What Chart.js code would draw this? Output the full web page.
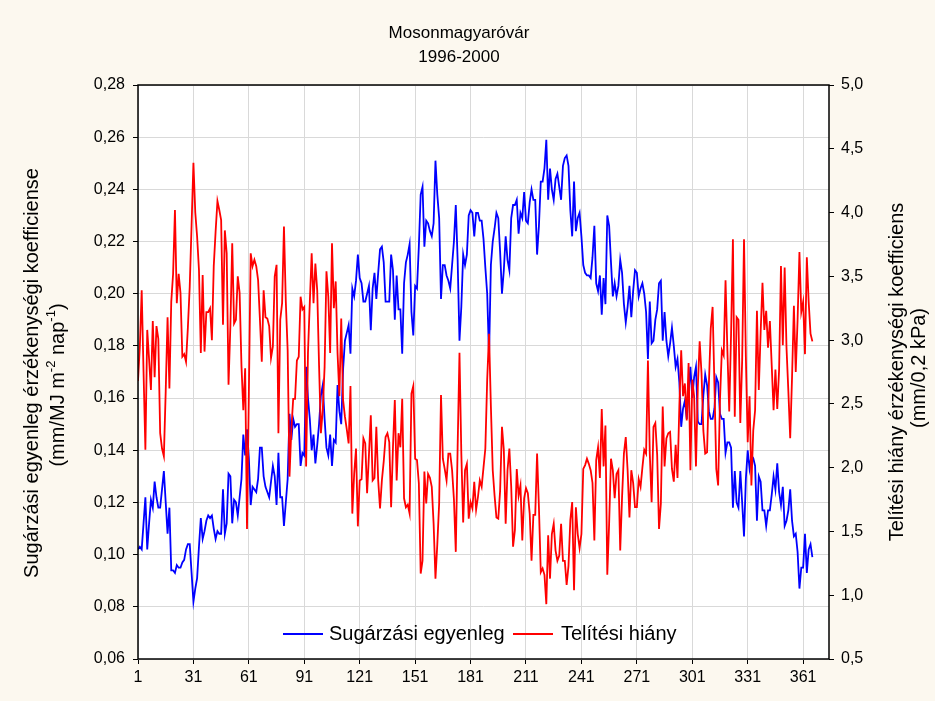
<!DOCTYPE html>
<html lang="hu">
<head>
<meta charset="UTF-8">
<title>Mosonmagyaróvár 1996-2000</title>
<script src="https://cdn.jsdelivr.net/npm/chart.js"></script>
<style>
  body { margin: 0; background: #fcf8ef; }
  #wrap { width: 935px; height: 701px; }
</style>
</head>
<body>
<div id="wrap"><canvas id="chart" width="935" height="701"></canvas></div>
<script>
// napok (1..366)
const days = Array.from({ length: 366 }, (_, i) => i + 1);

// Sugárzási egyenleg érzékenységi koefficiense (bal tengely)
const sugarzasi = [
  0.102,0.103,0.102,0.112,0.122,0.102,0.112,0.121,0.118,0.128,
  0.122,0.118,0.118,0.125,0.132,0.120,0.108,0.118,0.094,0.094,
  0.093,0.096,0.095,0.095,0.097,0.098,0.102,0.104,0.104,0.093,
  0.082,0.087,0.091,0.103,0.114,0.106,0.109,0.113,0.115,0.114,
  0.115,0.110,0.106,0.109,0.108,0.108,0.125,0.108,0.112,0.131,
  0.130,0.112,0.121,0.120,0.115,0.122,0.129,0.146,0.138,0.148,
  0.137,0.119,0.126,0.125,0.124,0.129,0.141,0.141,0.130,0.126,
  0.124,0.122,0.128,0.134,0.130,0.119,0.139,0.122,0.122,0.111,
  0.120,0.129,0.154,0.144,0.152,0.149,0.150,0.150,0.134,0.139,
  0.138,0.172,0.160,0.152,0.140,0.146,0.135,0.142,0.150,0.161,
  0.165,0.152,0.141,0.138,0.146,0.134,0.144,0.143,0.165,0.155,
  0.150,0.171,0.182,0.185,0.188,0.177,0.202,0.199,0.205,0.215,
  0.206,0.204,0.197,0.197,0.200,0.203,0.186,0.202,0.208,0.198,
  0.208,0.217,0.218,0.212,0.197,0.197,0.197,0.215,0.209,0.190,
  0.207,0.194,0.194,0.177,0.204,0.212,0.215,0.219,0.193,0.184,
  0.203,0.202,0.218,0.238,0.241,0.218,0.228,0.227,0.224,0.222,
  0.227,0.251,0.238,0.229,0.198,0.211,0.211,0.207,0.205,0.202,
  0.211,0.220,0.234,0.213,0.182,0.195,0.215,0.211,0.215,0.230,
  0.232,0.231,0.222,0.231,0.231,0.228,0.228,0.221,0.210,0.200,
  0.176,0.211,0.220,0.225,0.231,0.229,0.216,0.200,0.209,0.222,
  0.213,0.209,0.229,0.234,0.234,0.236,0.223,0.231,0.229,0.239,
  0.228,0.227,0.235,0.240,0.236,0.236,0.215,0.226,0.243,0.243,
  0.248,0.259,0.236,0.248,0.240,0.236,0.244,0.246,0.241,0.236,
  0.249,0.252,0.253,0.249,0.232,0.222,0.243,0.224,0.229,0.231,
  0.222,0.211,0.208,0.207,0.207,0.206,0.214,0.226,0.204,0.201,
  0.207,0.192,0.206,0.196,0.230,0.226,0.212,0.199,0.204,0.199,
  0.203,0.213,0.208,0.196,0.189,0.195,0.203,0.191,0.201,0.209,
  0.208,0.199,0.202,0.204,0.200,0.193,0.175,0.197,0.181,0.182,
  0.190,0.194,0.204,0.205,0.182,0.193,0.182,0.176,0.181,0.187,
  0.180,0.172,0.175,0.166,0.149,0.156,0.159,0.152,0.162,0.172,
  0.160,0.168,0.172,0.151,0.150,0.150,0.161,0.169,0.165,0.155,
  0.152,0.152,0.156,0.168,0.166,0.154,0.152,0.152,0.139,0.143,
  0.143,0.141,0.118,0.132,0.120,0.118,0.132,0.120,0.107,0.129,
  0.140,0.133,0.138,0.137,0.134,0.113,0.130,0.128,0.117,0.117,
  0.111,0.117,0.117,0.123,0.130,0.125,0.135,0.124,0.119,0.126,
  0.111,0.113,0.117,0.125,0.113,0.107,0.108,0.101,0.087,0.095,
  0.095,0.108,0.093,0.102,0.104,0.099
];

// Telítési hiány érzékenységi koefficiens (jobb tengely)
const telitesi = [
  2.68,2.95,3.39,2.75,2.14,3.08,2.85,2.61,3.15,2.71,
  3.11,3.01,2.27,2.15,2.09,2.60,3.18,2.62,3.30,3.52,
  4.02,3.29,3.52,3.37,2.87,2.89,2.83,3.10,3.42,3.90,
  4.39,4.00,3.81,3.55,2.90,3.51,2.91,3.22,3.22,3.25,
  3.00,3.58,3.85,4.09,4.02,3.94,3.12,3.86,3.68,2.65,
  3.11,3.76,3.13,3.16,3.50,3.37,2.80,2.45,2.78,1.52,
  2.58,3.68,3.58,3.63,3.58,3.47,3.16,2.83,3.39,3.18,
  3.17,3.11,2.86,2.95,3.50,3.59,2.27,3.16,3.29,3.89,
  3.30,2.92,1.93,2.30,2.54,2.54,2.84,2.87,3.34,3.24,
  3.26,2.01,2.90,3.30,3.68,3.29,3.60,3.39,2.80,2.27,
  2.45,2.79,3.54,3.34,2.90,3.76,3.25,3.46,2.90,2.56,
  3.17,2.53,2.40,2.30,2.19,2.64,1.64,1.95,2.15,1.54,
  1.90,1.91,2.23,2.19,1.80,2.10,2.41,1.90,1.92,2.32,
  1.90,1.68,1.90,2.05,2.24,2.27,2.20,1.69,2.16,2.53,
  1.90,2.27,2.16,2.54,1.76,1.69,1.71,1.64,2.58,2.64,
  2.07,2.06,1.88,1.17,1.27,1.97,1.72,1.95,1.92,1.85,
  1.56,1.13,1.40,1.72,2.57,2.07,1.99,1.90,2.11,2.11,
  1.98,1.75,1.34,2.16,2.90,2.11,1.57,1.98,2.03,1.60,
  1.73,1.68,1.89,1.67,1.77,1.90,1.85,2.00,2.15,2.69,
  3.05,2.48,1.98,1.78,1.61,1.60,1.82,2.32,2.14,1.56,
  1.98,2.15,1.85,1.38,1.51,1.99,1.78,1.86,1.43,1.76,
  1.84,1.80,1.64,1.27,1.63,1.63,2.11,1.69,1.18,1.21,
  1.16,0.93,1.47,1.13,1.48,1.56,1.35,1.27,1.31,1.56,
  1.27,1.27,1.08,1.23,1.59,1.73,1.04,1.69,1.48,1.37,
  1.48,1.99,2.02,2.07,2.03,1.98,1.88,1.43,2.06,2.16,
  1.92,2.46,2.01,2.33,1.16,1.56,2.07,1.98,1.76,1.95,
  1.98,1.35,1.77,2.11,2.24,1.98,1.61,1.98,1.88,1.69,
  1.69,1.91,1.85,2.00,2.14,2.11,2.84,2.11,1.73,2.32,
  2.35,2.10,1.52,1.72,2.48,2.01,2.23,2.27,2.28,1.99,
  1.89,2.18,1.92,2.48,2.92,2.56,2.66,2.37,2.82,1.98,
  2.69,2.56,2.01,2.63,2.99,2.74,2.29,2.11,2.12,2.66,
  3.09,3.26,2.64,1.99,1.86,2.53,2.92,2.88,3.47,2.92,
  2.44,3.05,3.79,2.40,3.18,3.16,2.35,2.84,3.79,2.87,
  2.20,2.56,1.86,2.29,2.45,3.23,2.61,3.06,3.45,3.08,
  3.23,2.94,3.15,2.80,2.45,2.77,2.46,2.77,3.58,2.96,
  3.57,2.94,2.60,2.23,2.71,3.27,2.75,3.16,3.69,3.22,
  3.30,2.89,3.65,3.30,3.05,2.99
];

const xTicks = [1, 31, 61, 91, 121, 151, 181, 211, 241, 271, 301, 331, 361];
const leftTicks = [0.06, 0.08, 0.10, 0.12, 0.14, 0.16, 0.18, 0.20, 0.22, 0.24, 0.26, 0.28];
const rightTicks = [0.5, 1.0, 1.5, 2.0, 2.5, 3.0, 3.5, 4.0, 4.5, 5.0];

const FONT = "'Liberation Sans', Arial, sans-serif";
const GRID = '#d9d9d9';

const comma = (v, d) => v.toFixed(d).replace('.', ',');

// háttér: krémszínű keret, fehér rajzterület
const background = {
  id: 'background',
  beforeDraw(chart) {
    const ctx = chart.ctx;
    const a = chart.chartArea;
    ctx.save();
    ctx.fillStyle = '#fcf8ef';
    ctx.fillRect(0, 0, chart.width, chart.height);
    ctx.fillStyle = '#ffffff';
    ctx.fillRect(a.left, a.top, a.right - a.left, a.bottom - a.top);
    ctx.restore();
  }
};

// feliratok, jelmagyarázat, keret
const extras = {
  id: 'extras',
  afterDraw(chart) {
    const ctx = chart.ctx;
    const a = chart.chartArea;
    ctx.save();
    ctx.fillStyle = '#000';
    ctx.textBaseline = 'middle';
    ctx.textAlign = 'center';
    ctx.font = '17px ' + FONT;
    ctx.fillText('Mosonmagyaróvár', 459, 33);
    ctx.fillText('1996-2000', 459, 57);

    // keret
    ctx.strokeStyle = '#000';
    ctx.lineWidth = 1.5;
    ctx.strokeRect(a.left, a.top, a.right - a.left, a.bottom - a.top);

    // bal tengelycím
    ctx.font = '20px ' + FONT;
    ctx.save();
    ctx.translate(32, 373);
    ctx.rotate(-Math.PI / 2);
    ctx.fillText('Sugárzási egyenleg érzékenységi koefficiense', 0, 0);
    ctx.restore();

    // (mm/MJ m-2 nap-1) felső indexekkel
    const parts = [
      ['(mm/MJ m', false], ['-2', true], [' nap', false], ['-1', true], [')', false]
    ];
    const measure = p => {
      ctx.font = (p[1] ? '13px ' : '20px ') + FONT;
      return ctx.measureText(p[0]).width;
    };
    const total = parts.reduce((s, p) => s + measure(p), 0);
    ctx.save();
    ctx.translate(58, 385);
    ctx.rotate(-Math.PI / 2);
    ctx.textAlign = 'left';
    let x = -total / 2;
    parts.forEach(p => {
      const w = measure(p);
      ctx.fillText(p[0], x, p[1] ? -7 : 0);
      x += w;
    });
    ctx.restore();

    // jobb tengelycím
    ctx.font = '20px ' + FONT;
    ctx.textAlign = 'center';
    ctx.save();
    ctx.translate(897, 372);
    ctx.rotate(-Math.PI / 2);
    ctx.fillText('Telítési hiány érzékenységi koefficiens', 0, 0);
    ctx.restore();
    ctx.save();
    ctx.translate(919, 368);
    ctx.rotate(-Math.PI / 2);
    ctx.fillText('(mm/0,2 kPa)', 0, 0);
    ctx.restore();

    // jelmagyarázat
    const ly = 634;
    ctx.lineWidth = 2;
    ctx.textAlign = 'left';
    ctx.strokeStyle = '#0000ff';
    ctx.beginPath(); ctx.moveTo(283, ly); ctx.lineTo(323, ly); ctx.stroke();
    ctx.fillText('Sugárzási egyenleg', 329, ly);
    ctx.strokeStyle = '#ff0000';
    ctx.beginPath(); ctx.moveTo(513, ly); ctx.lineTo(553, ly); ctx.stroke();
    ctx.fillText('Telítési hiány', 561, ly);
    ctx.restore();
  }
};

new Chart(document.getElementById('chart'), {
  type: 'line',
  data: {
    datasets: [
      {
        label: 'Sugárzási egyenleg',
        data: days.map((d, i) => ({ x: d, y: sugarzasi[i] })),
        borderColor: '#0000ff',
        borderWidth: 1.8,
        pointRadius: 0,
        yAxisID: 'y',
        order: 2
      },
      {
        label: 'Telítési hiány',
        data: days.map((d, i) => ({ x: d, y: telitesi[i] })),
        borderColor: '#ff0000',
        borderWidth: 1.8,
        pointRadius: 0,
        yAxisID: 'y2',
        order: 1
      }
    ]
  },
  options: {
    responsive: false,
    animation: false,
    layout: { padding: { top: 85, left: 0, right: 0, bottom: 0 } },
    plugins: { legend: { display: false }, title: { display: false }, tooltip: { enabled: false } },
    scales: {
      x: {
        type: 'linear',
        min: 1,
        max: 375,
        afterBuildTicks: s => { s.ticks = xTicks.map(v => ({ value: v })); },
        afterFit: s => { s.height = 42; },
        grid: { color: GRID, tickColor: '#000', tickLength: 5 },
        border: { display: false },
        ticks: { color: '#000', font: { family: FONT, size: 16 }, padding: 4, maxRotation: 0 }
      },
      y: {
        position: 'left',
        min: 0.06,
        max: 0.28,
        afterBuildTicks: s => { s.ticks = leftTicks.map(v => ({ value: v })); },
        afterFit: s => { s.width = 138; },
        grid: { color: GRID, tickColor: '#000', tickLength: 5 },
        border: { display: false },
        ticks: { color: '#000', font: { family: FONT, size: 16 }, padding: 8, callback: v => comma(v, 2) }
      },
      y2: {
        position: 'right',
        min: 0.5,
        max: 5.0,
        afterBuildTicks: s => { s.ticks = rightTicks.map(v => ({ value: v })); },
        afterFit: s => { s.width = 106; },
        grid: { drawOnChartArea: false, tickColor: '#000', tickLength: 5 },
        border: { display: false },
        ticks: { color: '#000', font: { family: FONT, size: 16 }, padding: 7, callback: v => comma(v, 1) }
      }
    }
  },
  plugins: [background, extras]
});
</script>
</body>
</html>
